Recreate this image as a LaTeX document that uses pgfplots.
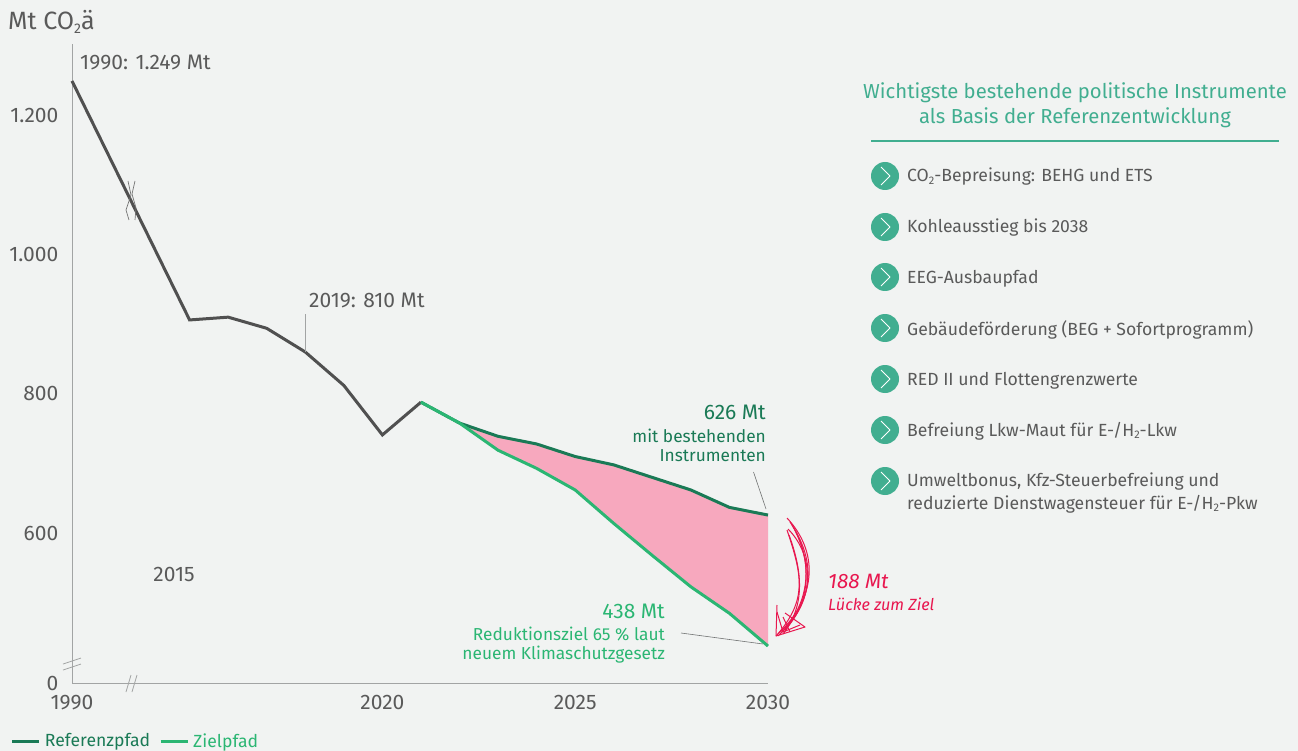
\documentclass[border=0pt]{standalone}
\usepackage{fontspec}
\setmainfont{Fira Sans}
\usepackage{pgfplots}
\pgfplotsset{compat=1.18}
\definecolor{bg}{HTML}{F1F3F2}
\definecolor{txt}{HTML}{5A5A5A}
\definecolor{ax}{HTML}{A2A4A4}
\definecolor{gl}{HTML}{505050}
\definecolor{dg}{HTML}{1A7A56}
\definecolor{lg}{HTML}{2BB673}
\definecolor{tq}{HTML}{41AE90}
\definecolor{pk}{HTML}{F7A8BE}
\definecolor{cr}{HTML}{E8174F}
\newcommand{\fs}[1]{\fontsize{#1pt}{#1pt}\selectfont}
\newcommand{\bull}[1]{%
  \fill[tq] (885,#1) circle (14);
  \draw[white,line width=1pt,line join=round] (881,#1-9) -- (890,#1) -- (881,#1+9);
}
\begin{document}
\begin{tikzpicture}[x=1pt,y=-1pt]
\fill[bg] (0,0) rectangle (1298,751);
\begin{axis}[
  at={(72pt,-683pt)}, anchor=south west,
  scale only axis, width=696pt, height=639pt,
  xmin=2011.95, xmax=2030, ymin=385, ymax=1302,
  axis x line=bottom, axis y line=left,
  axis line style={ax,line width=1pt,-},
  clip=false,
  xtick={2011.95,2020,2025,2030},
  xticklabels={1990,2020,2025,2030},
  ytick={385,600,800,1000,1200},
  yticklabels={0,600,800,{1.000},{1.200}},
  tick style={draw=none},
  ticklabel style={text=txt,font=\fs{21}},
  xticklabel style={yshift=-7pt},
  yticklabel style={xshift=-8pt},
  legend style={draw=none,fill=none,at={(-0.088,-0.0908)},anchor=west,legend columns=2,
    font=\fs{17.6},/tikz/every even column/.append style={column sep=7pt},inner sep=0pt,
    /tikz/every odd column/.append style={column sep=2pt}},
  legend image code/.code={\draw[#1,line width=3pt] (0pt,0pt)--(27pt,0pt);},
]
\addplot[forget plot,fill=pk,draw=none] coordinates {
 (2022,758)(2023,739)(2024,728)(2025,710)(2026,698)(2027,680)(2028,662)(2029,637)(2030,626)
 (2030,438)(2029,485)(2028,523)(2027,568)(2026,614)(2025,662)(2024,693)(2023,719)} -- cycle;
\addplot[forget plot,gl,line width=3pt,line join=miter] coordinates {
 (2011.95,1249)(2015,906)(2016,910)(2017,894)(2018,860)(2019,812)(2020,741)(2021,788)};
\addplot[dg,line width=3pt] coordinates {
 (2021,788)(2022,758)(2023,739)(2024,728)(2025,710)(2026,698)(2027,680)(2028,662)(2029,637)(2030,626)};
\addlegendentry{\textcolor{dg}{Referenzpfad}}
\addplot[lg,line width=3pt] coordinates {
 (2021,788)(2022,758)(2023,719)(2024,693)(2025,662)(2026,614)(2027,568)(2028,523)(2029,485)(2030,438)};
\addlegendentry{\textcolor{lg}{Zielpfad}}
\end{axis}
% axis breaks
\draw[ax,line width=.8pt] (63,664)--(81,658) (63,670)--(81,664);
\draw[ax,line width=.8pt] (126,692)--(131,675) (132,692)--(137,675);
\draw[gl!80,line width=.7pt] (135,181) -- (132,194) -- (136,208) -- (135,220);
\draw[gl!80,line width=.7pt] (128,181) -- (131,195) -- (126,210) -- (129,220);
% text
\node[anchor=west,text=txt,inner sep=0,font=\fs{25}] at (8,22) {Mt CO\raisebox{-4pt}{\fs{14}2}ä};
\node[anchor=west,text=txt,inner sep=0,font=\fs{21}] at (80,62) {1990: 1.249 Mt};
\node[anchor=west,text=txt,inner sep=0,font=\fs{21}] at (309,300) {2019: 810 Mt};
\draw[ax,line width=.7pt] (305,314)--(305,352);
\node[text=txt,inner sep=0,font=\fs{21}] at (174,574) {2015};
\node[anchor=east,text=dg,inner sep=0,font=\fs{21}] at (766,412) {626 Mt};
\node[anchor=east,text=dg,inner sep=0,font=\fs{17.3}] at (766,436) {mit bestehenden};
\node[anchor=east,text=dg,inner sep=0,font=\fs{17.3}] at (766,456) {Instrumenten};
\draw[ax!70!black,line width=.6pt] (753.5,472)--(766,509);
\node[anchor=east,text=lg,inner sep=0,font=\fs{21}] at (665,611) {438 Mt};
\node[anchor=east,text=lg,inner sep=0,font=\fs{17.3}] at (665,634) {Reduktionsziel 65 \% laut};
\node[anchor=east,text=lg,inner sep=0,font=\fs{17.3}] at (665,655) {neuem Klimaschutzgesetz};
\draw[ax!70!black,line width=.6pt] (681,633)--(763,644);
\node[anchor=west,text=cr,inner sep=0,font=\fs{20.8}\itshape] at (828,581) {188 Mt};
\node[anchor=west,text=cr,inner sep=0,font=\fs{16.2}\itshape] at (828,604) {Lücke zum Ziel};
% hand-drawn arrow
\begin{scope}[cr,line width=1pt,line join=round]
\draw (787,518) .. controls (817,550) and (819,595) .. (778,634);
\draw (788,529) .. controls (814,555) and (816,600) .. (782,632);
\draw (787,530) .. controls (802,575) and (808,600) .. (776,636);
\draw (792,525) .. controls (812,560) and (812,600) .. (785,630);
\draw (790,522) .. controls (816,560) and (815,600) .. (780,634);
\draw (795,530) .. controls (813,565) and (810,605) .. (778,636);
\draw (789,535) .. controls (802,570) and (806,605) .. (783,634);
\draw (777,605) -- (776,636) -- (805,627) -- (785,613);
\draw (783,617) -- (790,632);
\draw (777,612) -- (783,632) -- (800,625);
\end{scope}
% right panel
\node[text=tq,inner sep=0,font=\fs{20.3}] at (1075,93) {Wichtigste bestehende politische Instrumente};
\node[text=tq,inner sep=0,font=\fs{20.3}] at (1075,118) {als Basis der Referenzentwicklung};
\draw[tq,line width=1.5pt] (871,141)--(1279,141);
\bull{176}\bull{227}\bull{277}\bull{328}\bull{379}\bull{430}\bull{481}
\begin{scope}[every node/.style={anchor=west,text=txt,inner sep=0,font=\fs{17.6}}]
\node at (907,177) {CO\raisebox{-2.5pt}{\fs{11}2}-Bepreisung: BEHG und ETS};
\node at (907,228) {Kohleausstieg bis 2038};
\node at (907,279) {EEG-Ausbaupfad};
\node at (907,330) {Gebäudeförderung (BEG + Sofortprogramm)};
\node at (907,381) {RED II und Flottengrenzwerte};
\node at (907,431) {Befreiung Lkw-Maut für E-/H\raisebox{-2.5pt}{\fs{11}2}-Lkw};
\node at (907,482) {Umweltbonus, Kfz-Steuerbefreiung und};
\node at (907,504) {reduzierte Dienstwagensteuer für E-/H\raisebox{-2.5pt}{\fs{11}2}-Pkw};
\end{scope}
\end{tikzpicture}
\end{document}
